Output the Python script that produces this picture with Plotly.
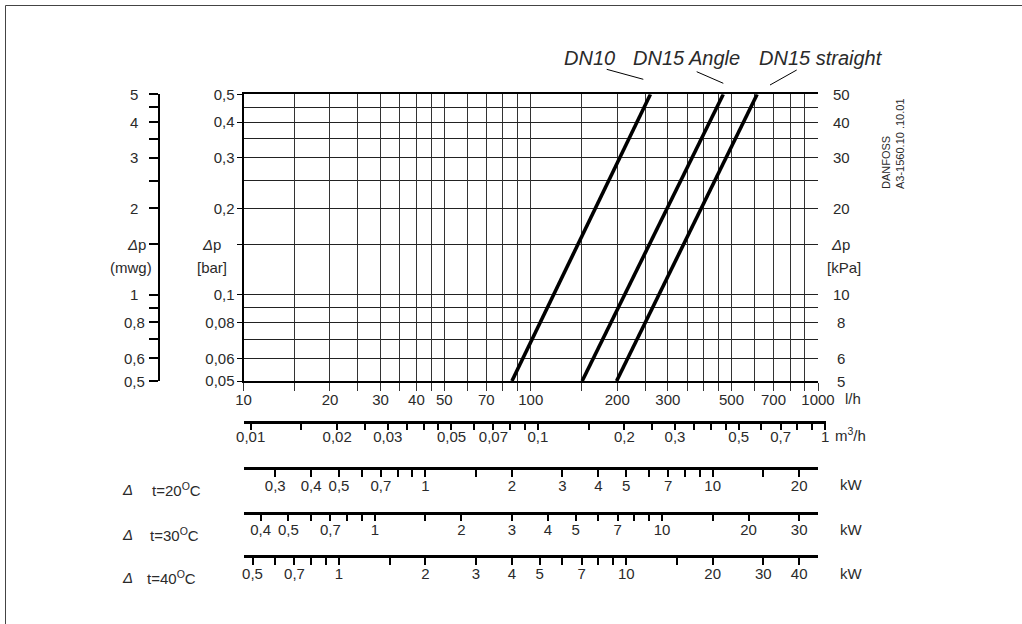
import numpy as np
import plotly.graph_objects as go

W, H = 1022, 624

# ---------------- data ----------------
DP_BAR = [0.05, 0.5]
SERIES_NAMES = ["DN10", "DN15 Angle", "DN15 straight"]
DN10_LH = [86, 261]
DN15_ANGLE_LH = [151, 468]
DN15_STRAIGHT_LH = [199, 614]

LH_GRID = [10, 15, 20, 25, 30, 35, 40, 45, 50, 60, 70, 80, 90, 100, 150, 200, 250, 300,
           350, 400, 450, 500, 600, 700, 800, 900, 1000]
LH_LABELED = [10, 20, 30, 40, 50, 70, 100, 200, 300, 500, 700, 1000]

BAR_MAJOR = [0.05, 0.06, 0.08, 0.1, 0.15, 0.2, 0.3, 0.4, 0.5]
BAR_MAJOR_TEXT = ["0,05", "0,06", "0,08", "0,1", "", "0,2", "0,3", "0,4", "0,5"]
BAR_MINOR = [0.07, 0.09, 0.25, 0.35, 0.45]

MWG_TICKS = [0.5, 0.6, 0.7, 0.8, 0.9, 1, 1.5, 2, 2.5, 3, 3.5, 4, 4.5, 5]
MWG_LABEL_VALS = [0.5, 0.6, 0.8, 1, 2, 3, 4, 5]
MWG_LABEL_TEXT = ["0,5", "0,6", "0,8", "1", "2", "3", "4", "5"]

KPA_LABEL_VALS = [5, 6, 8, 10, 20, 30, 40, 50]
KPA_LABEL_TEXT = ["5", "6", "8", "10", "20", "30", "40", "50"]

M3H_TICKS = [0.01, 0.015, 0.02, 0.025, 0.03, 0.035, 0.04, 0.045, 0.05, 0.06, 0.07, 0.08, 0.09,
             0.1, 0.15, 0.2, 0.25, 0.3, 0.35, 0.4, 0.45, 0.5, 0.6, 0.7, 0.8, 0.9, 1]
M3H_TEXT = ["0,01", "", "0,02", "", "0,03", "", "", "", "0,05", "", "0,07", "", "",
            "0,1", "", "0,2", "", "0,3", "", "", "", "0,5", "", "0,7", "", "", "1"]

DELTA_T = [20, 30, 40]
KW20_TICKS = [0.3, 0.4, 0.5, 0.6, 0.7, 0.8, 0.9, 1, 1.5, 2, 3, 4, 5, 6, 7, 8, 9, 10, 15, 20]
KW20_TEXT = ["0,3", "0,4", "0,5", "", "0,7", "", "", "1", "", "2", "3", "4", "5", "", "7", "", "", "10", "", "20"]
KW30_TICKS = [0.4, 0.5, 0.6, 0.7, 0.8, 0.9, 1, 1.5, 2, 3, 4, 5, 6, 7, 8, 9, 10, 15, 20, 30]
KW30_TEXT = ["0,4", "0,5", "", "0,7", "", "", "1", "", "2", "3", "4", "5", "", "7", "", "", "10", "", "20", "30"]
KW40_TICKS = [0.5, 0.6, 0.7, 0.8, 0.9, 1, 1.5, 2, 3, 4, 5, 6, 7, 8, 9, 10, 15, 20, 30, 40]
KW40_TEXT = ["0,5", "", "0,7", "", "", "1", "", "2", "3", "4", "5", "", "7", "", "", "10", "", "20", "30", "40"]
KW_PER_LH_PER_K = 1.163e-3  # kW per (l/h * K)

# ---------------- helpers ----------------
def px(x):
    return x / W

def py(y):
    return 1 - y / H

FONT = "Liberation Sans, Arial, sans-serif"
TXT = "#2a2a2a"
FS = 15
tickfont = dict(family=FONT, size=FS, color=TXT)

X0, X1 = px(243.5), px(818)
Y0, Y1 = py(381), py(94.3)
LH_RANGE = [1, 3]

fig = go.Figure()
for name, q in zip(SERIES_NAMES, [DN10_LH, DN15_ANGLE_LH, DN15_STRAIGHT_LH]):
    fig.add_trace(go.Scatter(x=q, y=DP_BAR, mode="lines", name=name, showlegend=False,
                             line=dict(color="black", width=3.6), hoverinfo="skip"))

# dummy traces for extra axes
fig.add_trace(go.Scatter(x=[], y=[], xaxis="x", yaxis="y2", showlegend=False))
fig.add_trace(go.Scatter(x=[], y=[], xaxis="x", yaxis="y3", showlegend=False))

layout = dict(
    template="none",
    width=W, height=H,
    margin=dict(l=0, r=0, t=0, b=0, pad=0, autoexpand=False),
    paper_bgcolor="white", plot_bgcolor="white",
    showlegend=False,
    xaxis=dict(type="log", range=LH_RANGE, domain=[X0, X1], anchor="y", automargin=False,
               tickmode="array", tickvals=LH_GRID,
               ticktext=[str(v) if v in LH_LABELED else "" for v in LH_GRID],
               ticks="outside", ticklen=8, tickwidth=1, tickcolor="#333",
               ticklabelstandoff=-4,
               showgrid=True, gridcolor="#333", gridwidth=1,
               showline=True, linewidth=2, linecolor="black", mirror=True,
               zeroline=False, tickfont=tickfont, fixedrange=True),
    yaxis=dict(type="log", range=[np.log10(0.05), np.log10(0.5)], domain=[Y0, Y1], anchor="x",
               automargin=False,
               tickmode="array", tickvals=BAR_MAJOR, ticktext=BAR_MAJOR_TEXT,
               ticks="outside", ticklen=5, tickwidth=1, tickcolor="black",
               ticklabelstandoff=-1,
               showgrid=True, gridcolor="#222", gridwidth=1,
               minor=dict(tickmode="array", tickvals=BAR_MINOR, showgrid=True,
                          gridcolor="#222", gridwidth=1, ticks=""),
               showline=True, linewidth=2, linecolor="black",
               zeroline=False, tickfont=tickfont, fixedrange=True),
    yaxis2=dict(type="log", overlaying="y", anchor="free", position=px(159), side="left",
                automargin=False,
                range=[np.log10(0.5), np.log10(5)], tickmode="array", tickvals=MWG_TICKS,
                ticktext=[""] * len(MWG_TICKS), ticks="outside", ticklen=9, tickwidth=1.6,
                tickcolor="black", showline=True, linewidth=2, linecolor="black",
                showgrid=False, zeroline=False, fixedrange=True),
    yaxis3=dict(type="log", overlaying="y", anchor="x", side="right", automargin=False,
                range=[np.log10(5), np.log10(50)], showticklabels=False, ticks="",
                showline=False, showgrid=False, zeroline=False, fixedrange=True),
)

annotations = []
shapes = []

# ---- lower scales ----
M3H_R0 = -2 - 6.7 / 287.25
scales = [
    # (line y px, domain px, range, ticks, text, ticklen, standoff)
    (421, (244, 826), [M3H_R0, M3H_R0 + 582 / 287.25], M3H_TICKS, M3H_TEXT, 6, -6),
]
for dt, tv, tt, ly in zip(DELTA_T, [KW20_TICKS, KW30_TICKS, KW40_TICKS],
                          [KW20_TEXT, KW30_TEXT, KW40_TEXT], [467, 511.7, 555]):
    f = KW_PER_LH_PER_K * dt
    rng = [LH_RANGE[0] + np.log10(f), LH_RANGE[1] + np.log10(f)]
    scales.append((ly, (243.5, 818), rng, tv, tt, 7, -4))

for i, (ly, dom, rng, tv, tt, tl, so) in enumerate(scales):
    xn = i + 2
    yn = i + 4
    layout[f"xaxis{xn}"] = dict(type="log", domain=[px(dom[0]), px(dom[1])], range=rng,
                                anchor=f"y{yn}", automargin=False,
                                tickmode="array", tickvals=tv, ticktext=tt,
                                ticks="outside", ticklen=tl, tickwidth=2, tickcolor="black",
                                ticklabelstandoff=so,
                                showline=True, linewidth=2.5, linecolor="black",
                                showgrid=False, zeroline=False, tickfont=tickfont,
                                fixedrange=True)
    layout[f"yaxis{yn}"] = dict(domain=[py(ly), py(ly) + 0.002], anchor=f"x{xn}",
                                visible=False, range=[0, 1], fixedrange=True, automargin=False)
    fig.add_trace(go.Scatter(x=[], y=[], xaxis=f"x{xn}", yaxis=f"y{yn}", showlegend=False))

def ann(text, x, y, xanchor="center", size=FS, xref="paper", yref="paper", yshift=0, **kw):
    annotations.append(dict(text=text, x=x, y=y, xref=xref, yref=yref, xanchor=xanchor,
                            yanchor="middle", showarrow=False, yshift=yshift,
                            font=dict(family=FONT, size=size, color=TXT), **kw))

# unit labels
ann("l/h", px(843), py(399), xanchor="left")
ann("m<sup>3</sup>/h", px(833), py(434), xanchor="left")
for ly in [484, 529, 573]:
    ann("kW", px(838), py(ly), xanchor="left")
for dt, ly, tx in zip(DELTA_T, [489, 534, 577], [150, 148, 145]):
    ann("<i>Δ</i>", px(127), py(ly))
    ann(f"t={dt}<sup>O</sup>C", px(tx), py(ly), xanchor="left")

# mwg labels
for v, t in zip(MWG_LABEL_VALS, MWG_LABEL_TEXT):
    ann(t, px(134), np.log10(v), yref="y2")
ann("<i>Δ</i>p", px(136), np.log10(1.5), yref="y2")
ann("(mwg)", px(131), np.log10(1.5), yref="y2", yshift=-23)
# bar
ann("<i>Δ</i>p", px(211), np.log10(0.15), yref="y")
ann("[bar]", px(212), np.log10(0.15), yref="y", yshift=-23)
# kPa labels
for v, t in zip(KPA_LABEL_VALS, KPA_LABEL_TEXT):
    ann(t, px(841), np.log10(v), yref="y3")
ann("<i>Δ</i>p", px(840), np.log10(15), yref="y3")
ann("[kPa]", px(844), np.log10(15), yref="y3", yshift=-23)

# series labels
for name, x0 in zip(SERIES_NAMES, [563, 632, 758]):
    ann(f"<i>{name}</i>", px(x0 - 1), py(58), xanchor="left", size=20)
for (xa, ya, xb, yb) in [(606.7, 69.3, 643.3, 79.3), (696.7, 71.7, 723.3, 83.3), (796.7, 70, 770, 85)]:
    shapes.append(dict(type="line", xref="paper", yref="paper", x0=px(xa), y0=py(ya),
                       x1=px(xb), y1=py(yb), line=dict(color="black", width=1)))

# Danfoss code
annotations.append(dict(text="DANFOSS<br>A3-1560.10 .10.01", x=px(893), y=py(144),
                        xref="paper", yref="paper", xanchor="center", yanchor="middle",
                        textangle=-90, align="left", showarrow=False,
                        font=dict(family=FONT, size=11, color=TXT)))

# outer frame
shapes.append(dict(type="rect", xref="paper", yref="paper", x0=px(5.5), y0=py(5.5),
                   x1=1.02, y1=-0.02, line=dict(color="#444", width=1)))

layout["annotations"] = annotations
layout["shapes"] = shapes
fig.update_layout(**layout)
fig.write_html("out.html", config={"displayModeBar": False},
               post_script="document.body.style.margin='0';document.body.style.overflow='hidden';")
